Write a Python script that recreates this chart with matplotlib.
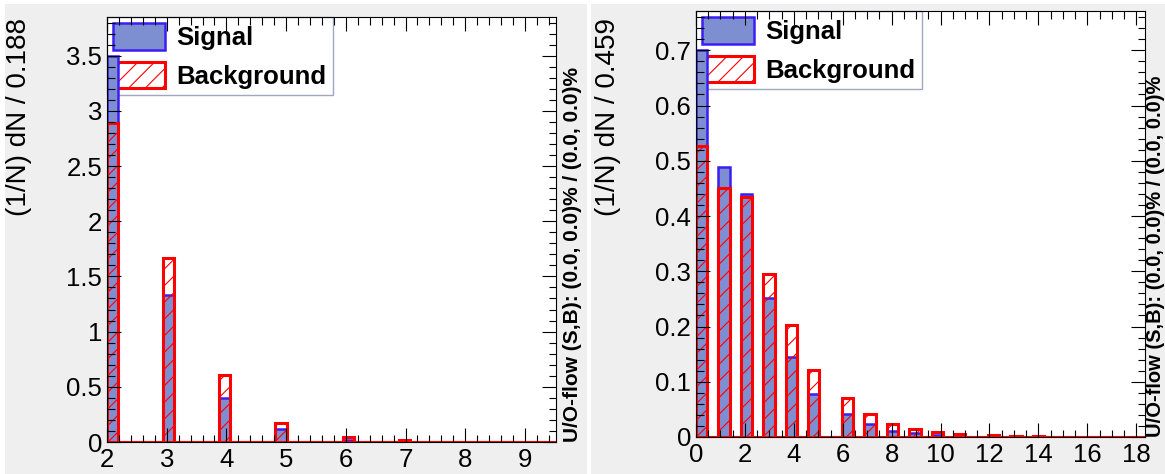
import numpy as np
import matplotlib
matplotlib.use("Agg")
from matplotlib import pyplot as plt
from matplotlib.patches import Rectangle
from matplotlib.ticker import MultipleLocator, FuncFormatter

plt.rcParams['font.family'] = ['Liberation Sans', 'DejaVu Sans']
plt.rcParams['hatch.linewidth'] = 0.8
plt.rcParams['hatch.color'] = 'red'

# left panel: integer values 2..7, 40 bins from 2 to 9.52
left_x = [2, 3, 4, 5, 6, 7]
left_sig = [3.50, 1.33, 0.40, 0.114, 0.018, 0.003]
left_bkg = [2.89, 1.666, 0.61, 0.17, 0.045, 0.015]
left_range = (2, 9.52)
left_width = "0.188"

# right panel: integer values 0..14, 40 bins from 0 to 18.36
right_x = list(range(15))
right_sig = [0.701, 0.489, 0.439, 0.252, 0.144, 0.077, 0.042, 0.023,
             0.011, 0.007, 0.004, 0.002, 0.0005, 0.0, 0.0]
right_bkg = [0.527, 0.450, 0.434, 0.2945, 0.202, 0.121, 0.071, 0.041,
             0.024, 0.014, 0.0085, 0.006, 0.003, 0.002, 0.002]
right_range = (0, 18.36)
right_width = "0.459"

nbins = 40
labels = ["Signal", "Background"]
uoflow = "U/O-flow (S,B): (0.0, 0.0)% / (0.0, 0.0)%"

W, H = 1165, 474
fig = plt.figure(figsize=(W / 100, H / 100), dpi=100)
fig.patch.set_facecolor('white')

# gray canvases
for x0, x1 in [(5, 587), (591, 1165)]:
    fig.add_artist(Rectangle((x0 / W, 0), (x1 - x0) / W, 470 / H,
                             transform=fig.transFigure, facecolor='#efefef',
                             edgecolor='none', zorder=-10))

fmt = FuncFormatter(lambda v, p: "%g" % round(v, 6))


def panel(box, xs, sig, bkg, rng, width, xmaj, xmin, ymaj, ymin, uo_dx, uo_fs):
    l, t, r, b = box
    ax = fig.add_axes([l / W, 1 - b / H, (r - l) / W, (b - t) / H])
    bins = np.linspace(rng[0], rng[1], nbins + 1)
    ax.hist(xs, bins=bins, weights=sig, histtype='stepfilled',
            facecolor='#7d8fd1', edgecolor='#3a1ef2', lw=1.8, label=labels[0])
    ax.hist(xs, bins=bins, weights=bkg, histtype='stepfilled',
            facecolor='none', edgecolor='red', hatch='//', lw=2.2, label=labels[1])
    ax.set_xlim(rng)
    ax.set_ylim(0, 1.1 * max(max(sig), max(bkg)))

    ax.xaxis.set_major_locator(MultipleLocator(xmaj))
    ax.xaxis.set_minor_locator(MultipleLocator(xmin))
    ax.yaxis.set_major_locator(MultipleLocator(ymaj))
    ax.yaxis.set_minor_locator(MultipleLocator(ymin))
    ax.xaxis.set_major_formatter(fmt)
    ax.yaxis.set_major_formatter(fmt)
    ax.tick_params(which='both', direction='in', top=True, right=True, width=0.8)
    ax.tick_params(which='major', length=10, labelsize=18.5)
    ax.tick_params(which='minor', length=5.4)
    ax.tick_params(axis='x', pad=4)
    ax.tick_params(axis='y', pad=3.5)
    for s in ax.spines.values():
        s.set_linewidth(0.8)

    leg = ax.legend(loc='upper left', bbox_to_anchor=(0, 1), borderaxespad=0,
                    prop={'weight': 'bold', 'size': 18.5}, handlelength=2.0,
                    handleheight=1.2, handletextpad=0.45, labelspacing=0.45,
                    borderpad=0.25, fancybox=False, framealpha=1,
                    edgecolor='#a0a8c0')
    leg.get_frame().set_linewidth(1)
    leg.set_zorder(0.5)

    fig.text((l - 88) / W, 1 - 18 / H, "(1/N) dN / " + width, rotation=90,
             ha='center', va='top', fontsize=20)
    fig.text((r + uo_dx) / W, 1 - b / H, uoflow, rotation=90, ha='center',
             va='bottom', fontsize=uo_fs, fontweight='bold')
    return ax


panel((107, 17, 556, 442), left_x, left_sig, left_bkg, left_range, left_width,
      1, 0.2, 0.5, 0.1, 16, 15)
panel((696, 11, 1145, 437), right_x, right_sig, right_bkg, right_range, right_width,
      2, 0.5, 0.1, 0.02, 10.5, 14.5)

fig.savefig("out.png", dpi=100)
